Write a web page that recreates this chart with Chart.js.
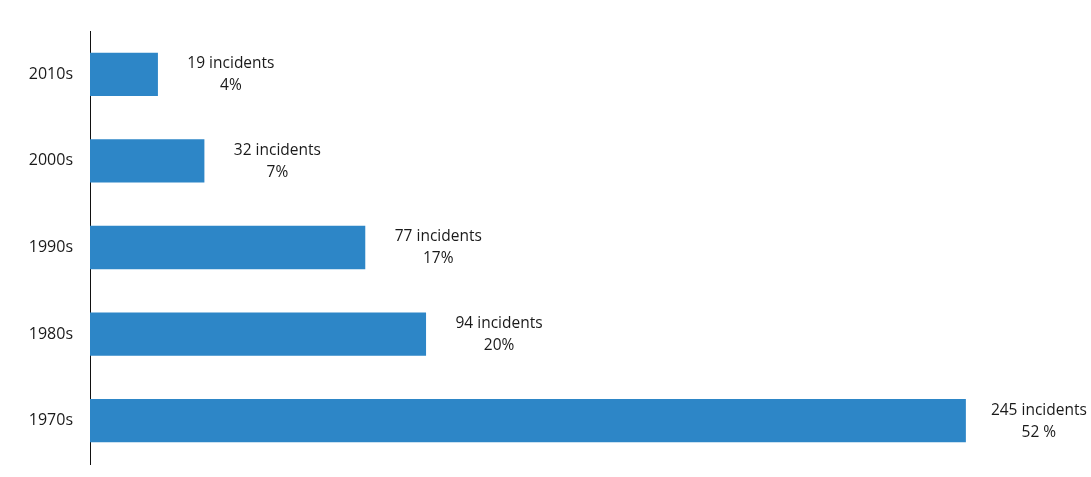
<!DOCTYPE html>
<html>
<head>
<meta charset="utf-8">
<script src="https://cdn.jsdelivr.net/npm/chart.js@4"></script>
<style>
  html, body { margin: 0; padding: 0; background: #fff; }
  #wrap { width: 1091px; height: 477px; }
</style>
</head>
<body>
<div id="wrap"><canvas id="decadeChart"></canvas></div>
<script>
// decades, top to bottom
const decades = ['2010s', '2000s', '1990s', '1980s', '1970s'];
const incidents = [19, 32, 77, 94, 245];
const shares = ['4%', '7%', '17%', '20%', '52 %'];

const FONT = '"Open Sans", "Noto Sans", sans-serif';

// draws the two-line label to the right of each bar
const barLabels = {
    id: 'barLabels',
    afterDatasetsDraw(chart) {
        const ctx = chart.ctx;
        const meta = chart.getDatasetMeta(0);
        ctx.save();
        ctx.font = '15.5px ' + FONT;
        ctx.fillStyle = '#1a1a1a';
        ctx.textAlign = 'center';
        ctx.textBaseline = 'middle';
        meta.data.forEach((bar, i) => {
            const cx = bar.x + 73;
            ctx.fillText(incidents[i] + ' incidents', cx, bar.y - 10.5);
            ctx.fillText(shares[i], cx, bar.y + 11.5);
        });
        ctx.restore();
    }
};

const ctx = document.getElementById('decadeChart').getContext('2d');
new Chart(ctx, {
    type: 'bar',
    data: {
        labels: decades,
        datasets: [{
            data: incidents,
            backgroundColor: '#2d86c7',
            categoryPercentage: 1,
            barPercentage: 0.5
        }]
    },
    options: {
        indexAxis: 'y',
        responsive: true,
        maintainAspectRatio: false,
        animation: false,
        layout: { padding: { top: 31, bottom: 13, left: 0, right: 0 } },
        scales: {
            x: {
                display: false,
                min: 0,
                max: 280
            },
            y: {
                afterFit: (scale) => {
                    scale.width = 90;
                    scale.paddingTop = 0;
                    scale.paddingBottom = 0;
                },
                grid: { display: false },
                border: { display: true, color: '#111', width: 1 },
                ticks: {
                    padding: 9,
                    color: '#1a1a1a',
                    font: { family: FONT, size: 16 }
                }
            }
        },
        plugins: {
            legend: { display: false },
            tooltip: { enabled: false }
        }
    },
    plugins: [barLabels]
});
</script>
</body>
</html>
